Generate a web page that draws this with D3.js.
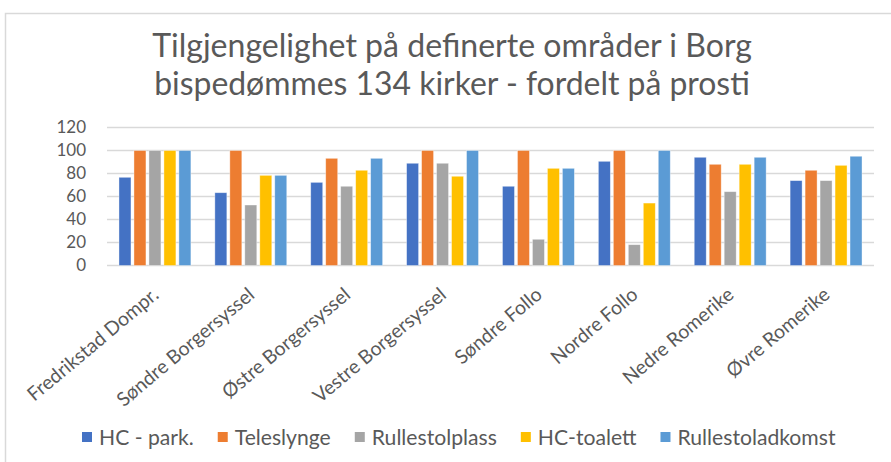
<!DOCTYPE html>
<html><head><meta charset="utf-8">
<script src="https://cdn.jsdelivr.net/npm/d3@7"></script>
<style>
html,body{margin:0;padding:0;background:#fff;}
svg{display:block;}
text{font-family:Lato,"Open Sans",sans-serif;}
</style></head>
<body>
<svg id="chart" width="891" height="462"></svg>
<script>
const titleLines = ["Tilgjengelighet på definerte områder i Borg", "bispedømmes 134 kirker - fordelt på prosti"];
const categories = ["Fredrikstad Dompr.", "Søndre Borgersyssel", "Østre Borgersyssel", "Vestre Borgersyssel", "Søndre Follo", "Nordre Follo", "Nedre Romerike", "Øvre Romerike"];
const seriesNames = ["HC - park.", "Teleslynge", "Rullestolplass", "HC-toalett", "Rullestoladkomst"];
const hcPark = [76.7, 63.3, 72.3, 88.9, 68.9, 90.6, 94.1, 73.8];
const teleslynge = [100, 100, 93.2, 100, 100, 100, 88.0, 82.8];
const rullestolplass = [100, 52.6, 68.9, 88.9, 22.8, 18.1, 64.2, 73.8];
const hcToalett = [100, 78.4, 82.8, 77.6, 84.5, 54.3, 88.0, 87.1];
const rullestoladkomst = [100, 78.4, 93.2, 100, 84.5, 100, 94.1, 95.0];
const seriesValues = [hcPark, teleslynge, rullestolplass, hcToalett, rullestoladkomst];
const colors = ["#4472C4", "#ED7D31", "#A5A5A5", "#FFC000", "#5B9BD5"];
const yTicks = [0, 20, 40, 60, 80, 100, 120];

const svg = d3.select("#chart");
const textColor = "#595959";

// chart area border
svg.append("path").attr("d", "M5.5,462 L5.5,13.5 L891,13.5")
  .attr("fill", "none").attr("stroke", "#d9d9d9").attr("stroke-width", 1.5);

// title
const titleTargets = [600, 596];
const titleY = [57, 95];
titleLines.forEach((t, i) => {
  const el = svg.append("text").attr("x", 452).attr("y", titleY[i])
    .attr("text-anchor", "middle").attr("fill", textColor)
    .attr("font-size", 24).style("font-weight", 400).text(t);
  const w = el.node().getComputedTextLength();
  el.attr("font-size", 24 * titleTargets[i] / w);
});

const x0 = d3.scaleBand().domain(categories).range([107, 874]).paddingInner(0.25).paddingOuter(0.125);
const x1 = d3.scaleBand().domain(seriesNames).range([0, x0.bandwidth()]).paddingInner(0.2);
const y = d3.scaleLinear().domain([0, 120]).range([265.5, 127.5]);

// gridlines
svg.append("g").selectAll("line").data(yTicks).join("line")
  .attr("x1", 107).attr("x2", 874)
  .attr("y1", d => y(d)).attr("y2", d => y(d))
  .attr("stroke", "#d9d9d9").attr("stroke-width", 1.5);

// y labels
svg.append("g").selectAll("text").data(yTicks).join("text")
  .attr("x", 86).attr("y", d => y(d)).attr("dy", "0.35em")
  .attr("text-anchor", "end").attr("fill", textColor).attr("font-size", 17)
  .text(d => d);

// bars
const groups = svg.append("g").selectAll("g").data(categories).join("g")
  .attr("transform", d => `translate(${x0(d)},0)`);
groups.selectAll("rect").data((c, ci) => seriesNames.map((s, si) => ({s, si, v: seriesValues[si][ci]})))
  .join("rect")
  .attr("x", d => x1(d.s)).attr("width", x1.bandwidth())
  .attr("y", d => y(d.v)).attr("height", d => y(0) - y(d.v))
  .attr("fill", d => colors[d.si])
  .attr("stroke", "#fff").attr("stroke-opacity", 0.5).attr("stroke-width", 0.75);

// x labels
const xl = svg.append("g").selectAll("text").data(categories).join("text")
  .attr("text-anchor", "end").attr("dy", "0.72em").attr("fill", textColor).attr("font-size", 16)
  .text(d => d);
const w0 = xl.nodes()[0].getComputedTextLength();
const labelSize = 16 * 164 / w0;
xl.attr("font-size", labelSize)
  .attr("transform", d => `translate(${x0(d) + x0.bandwidth() / 2 - 4},${286}) rotate(-40)`);

// legend
const leg = svg.append("g");
const legFont = 18;
let cx = 0;
const gs = [];
seriesNames.forEach((s, i) => {
  const g = leg.append("g");
  g.append("rect").attr("x", 0).attr("y", -6).attr("width", 10).attr("height", 10).attr("fill", colors[i]);
  const t = g.append("text").attr("x", 17).attr("y", 0).attr("dy", "0.35em")
    .attr("fill", textColor).attr("font-size", legFont).text(s);
  gs.push({g, t});
});
// fit legend text to span
let textTotal = d3.sum(gs, d => d.t.node().getComputedTextLength());
const span = 836 - 82;
const gapSum = 5 * 17 + 4 * 24;
const scaleF = (span - gapSum) / textTotal;
gs.forEach(d => d.t.attr("font-size", legFont * scaleF));
cx = 82;
gs.forEach(d => {
  d.g.attr("transform", `translate(${cx},438)`);
  cx += 17 + d.t.node().getComputedTextLength() + 24;
});
</script>
</body></html>
